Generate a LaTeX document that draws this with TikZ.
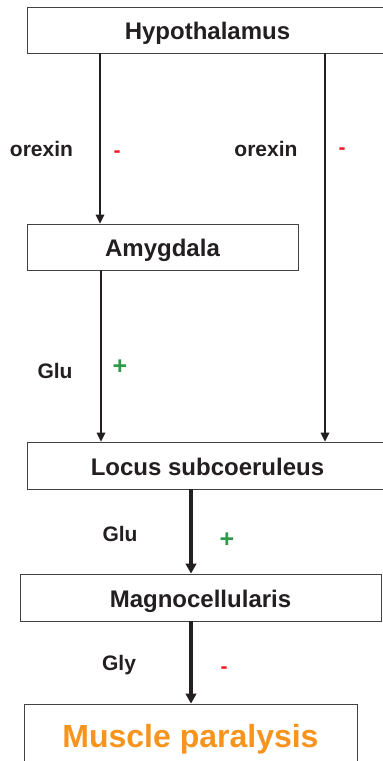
\documentclass[tikz,border=0pt]{standalone}
\usepackage{fontspec}
\setmainfont{Liberation Sans}
\usetikzlibrary{arrows.meta}
\definecolor{ink}{HTML}{231F20}
\definecolor{minusred}{HTML}{ED1C24}
\definecolor{plusgreen}{HTML}{2E9B48}
\definecolor{paraorange}{HTML}{F7941D}
\tikzset{
  box/.style={draw=ink!85, line width=0.8pt, inner sep=0pt, text=ink,
    font=\fontsize{24}{28}\selectfont\bfseries, text height=19pt, text depth=0pt},
  lbl/.style={anchor=base, inner sep=0pt, text=ink, font=\fontsize{21}{24}\selectfont\bfseries},
  minus/.style={lbl, text=minusred},
  plus/.style={lbl, text=plusgreen, font=\fontsize{25}{28}\selectfont\bfseries},
  thinarrow/.style={draw=ink, line width=1.7pt, -{Triangle[length=9pt,width=8.5pt]}},
  thickarrow/.style={draw=ink, line width=3.5pt, -{Triangle[length=10pt,width=10.5pt]}},
}
\begin{document}
\begin{tikzpicture}[x=1pt,y=-1pt]
\useasboundingbox (0,0) rectangle (383,761);
\fill[white] (0,0) rectangle (383,761);

% boxes
\node[box, minimum width=361pt, minimum height=46pt] (hyp) at (207.5,30) {Hypothalamus};
\node[box, minimum width=271pt, minimum height=46pt] (amy) at (162.5,247) {Amygdala};
\node[box, minimum width=361pt, minimum height=47pt] (locus) at (207.5,465.5) {Locus subcoeruleus};
\node[box, minimum width=361pt, minimum height=47pt] (magno) at (200.5,597.5) {Magnocellularis};
\node[box, minimum width=333pt, minimum height=63pt, text=paraorange,
  font=\fontsize{32}{36}\selectfont\bfseries, text height=23pt] (muscle) at (190.5,735.5) {Muscle paralysis};

% connectors
\draw[thinarrow] (hyp.south -| 100,0) -- (amy.north -| 100,0);
\draw[thinarrow] (hyp.south -| 325,0) -- (locus.north -| 325,0);
\draw[thinarrow] (amy.south -| 101,0) -- (locus.north -| 101,0);
\draw[thickarrow] (locus.south -| 191,0) -- (magno.north -| 191,0);
\draw[thickarrow] (magno.south -| 191,0) -- (muscle.north -| 191,0);

% transmitter labels and signs
\node[lbl] (ox1) at (41.5,156) {orexin};
\node[minus] (m1) at (117,157) {-};
\node[lbl] (ox2) at (266,156) {orexin};
\node[minus] (m2) at (342,154) {-};
\node[lbl] (glu1) at (55,378) {Glu};
\node[plus] (p1) at (120,374) {+};
\node[lbl] (glu2) at (120,541) {Glu};
\node[plus] (p2) at (227,547) {+};
\node[lbl] (gly) at (119,670.5) {Gly};
\node[minus] (m3) at (224,673) {-};
\end{tikzpicture}
\end{document}
